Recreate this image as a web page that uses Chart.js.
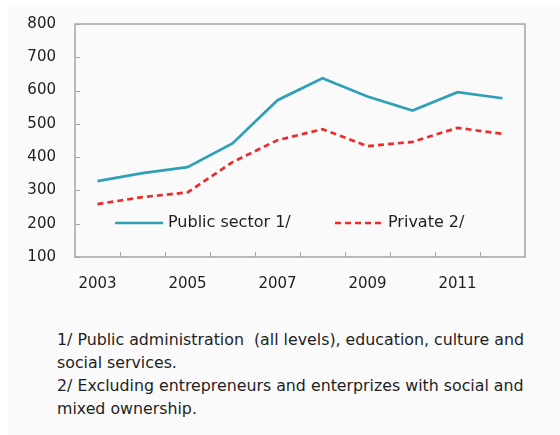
<!DOCTYPE html>
<html>
<head>
<meta charset="utf-8">
<script src="https://cdn.jsdelivr.net/npm/chart.js@4.4.1/dist/chart.umd.min.js"></script>
<style>
  html, body { margin: 0; padding: 0; background: #ffffff; }
  #page {
    position: absolute; left: 8px; top: 7px; width: 552px; height: 428px;
    background: #fafafa;
  }
  #wrap { position: absolute; left: -8px; top: -7px; width: 560px; height: 300px; }
  #notes {
    position: absolute; left: 49px; top: 321px; width: 510px;
    font-family: "DejaVu Sans", sans-serif; font-size: 15.8px; line-height: 23px;
    color: #1e1e1e; white-space: nowrap;
  }
</style>
</head>
<body>
<div id="page">
  <div id="wrap"><canvas id="wages"></canvas></div>
  <div id="notes">
    1/ Public administration &nbsp;(all levels), education, culture and<br>
    social services.<br>
    2/ Excluding entrepreneurs and enterprizes with social and<br>
    mixed ownership.
  </div>
</div>
<script>
// years on the category axis
const years = ['2003', '2004', '2005', '2006', '2007', '2008', '2009', '2010', '2011', '2012'];
const publicSector = [328, 352, 370, 441, 571, 637, 582, 540, 595, 577];
const privateSector = [259, 280, 294, 385, 451, 484, 433, 446, 488, 470];
const seriesNames = ['Public sector 1/', 'Private 2/'];
const yTicks = [100, 200, 300, 400, 500, 600, 700, 800];

const TEAL = '#30a0b8';
const RED = '#ee2a2a';
const AXIS_GREY = '#a6a6a6';
const FONT = '"DejaVu Sans", sans-serif';

// plot frame with inward tick marks
const framePlugin = {
  id: 'frame',
  afterDraw(chart) {
    const { ctx, chartArea: a, scales } = chart;
    ctx.save();
    ctx.strokeStyle = AXIS_GREY;
    ctx.lineWidth = 1.5;
    ctx.strokeRect(a.left, a.top, a.right - a.left, a.bottom - a.top);
    ctx.lineWidth = 1;
    ctx.beginPath();
    yTicks.forEach(v => {
      const y = Math.round(scales.y.getPixelForValue(v)) + 0.5;
      ctx.moveTo(a.left, y);
      ctx.lineTo(a.left + 5, y);
    });
    const step = (a.right - a.left) / years.length;
    for (let i = 1; i < years.length; i++) {
      const x = Math.round(a.left + i * step) + 0.5;
      ctx.moveTo(x, a.bottom);
      ctx.lineTo(x, a.bottom - 5);
    }
    ctx.stroke();
    ctx.restore();
  }
};

// legend sits inside the plot, near the bottom
const insideLegend = {
  id: 'insideLegend',
  afterDraw(chart) {
    const { ctx, chartArea: a } = chart;
    const y = a.top + 199;
    ctx.save();
    ctx.font = '16px ' + FONT;
    ctx.fillStyle = '#1e1e1e';
    ctx.textBaseline = 'middle';
    ctx.lineWidth = 2.5;

    ctx.strokeStyle = TEAL;
    ctx.beginPath();
    ctx.moveTo(a.left + 40, y);
    ctx.lineTo(a.left + 88, y);
    ctx.stroke();
    ctx.fillText(seriesNames[0], a.left + 93, y);

    ctx.strokeStyle = RED;
    ctx.setLineDash([6, 4]);
    ctx.beginPath();
    ctx.moveTo(a.left + 260, y);
    ctx.lineTo(a.left + 310, y);
    ctx.stroke();
    ctx.setLineDash([]);
    ctx.fillText(seriesNames[1], a.left + 313, y);
    ctx.restore();
  }
};

new Chart(document.getElementById('wages'), {
  type: 'line',
  data: {
    labels: years,
    datasets: [
      {
        label: seriesNames[0],
        data: publicSector,
        borderColor: TEAL,
        borderWidth: 2.7,
        pointRadius: 0,
        tension: 0
      },
      {
        label: seriesNames[1],
        data: privateSector,
        borderColor: RED,
        borderWidth: 2.7,
        borderDash: [6, 4],
        pointRadius: 0,
        tension: 0
      }
    ]
  },
  options: {
    responsive: true,
    maintainAspectRatio: false,
    animation: false,
    layout: { padding: { left: 0, top: 24, right: 35, bottom: 0 } },
    plugins: { legend: { display: false }, tooltip: { enabled: false } },
    scales: {
      x: {
        offset: true,
        grid: { display: false, drawTicks: false },
        border: { display: false },
        ticks: {
          autoSkip: false,
          maxRotation: 0,
          padding: 18,
          color: '#1e1e1e',
          font: { family: FONT, size: 15 },
          callback: (v, i) => (i % 2 === 0 ? years[i] : '')
        },
        afterFit: s => { s.height = 43; }
      },
      y: {
        min: 100,
        max: 800,
        // the gap between labels and frame comes from an undrawn tick length,
        // so the top of the plot isn't pushed down by label padding
        grid: { display: false, drawTicks: true, tickLength: 19 },
        border: { display: false },
        ticks: {
          stepSize: 100,
          padding: 0,
          color: '#1e1e1e',
          font: { family: FONT, size: 15 }
        },
        afterFit: s => { s.width = 75; }
      }
    }
  },
  plugins: [framePlugin, insideLegend]
});
</script>
</body>
</html>
